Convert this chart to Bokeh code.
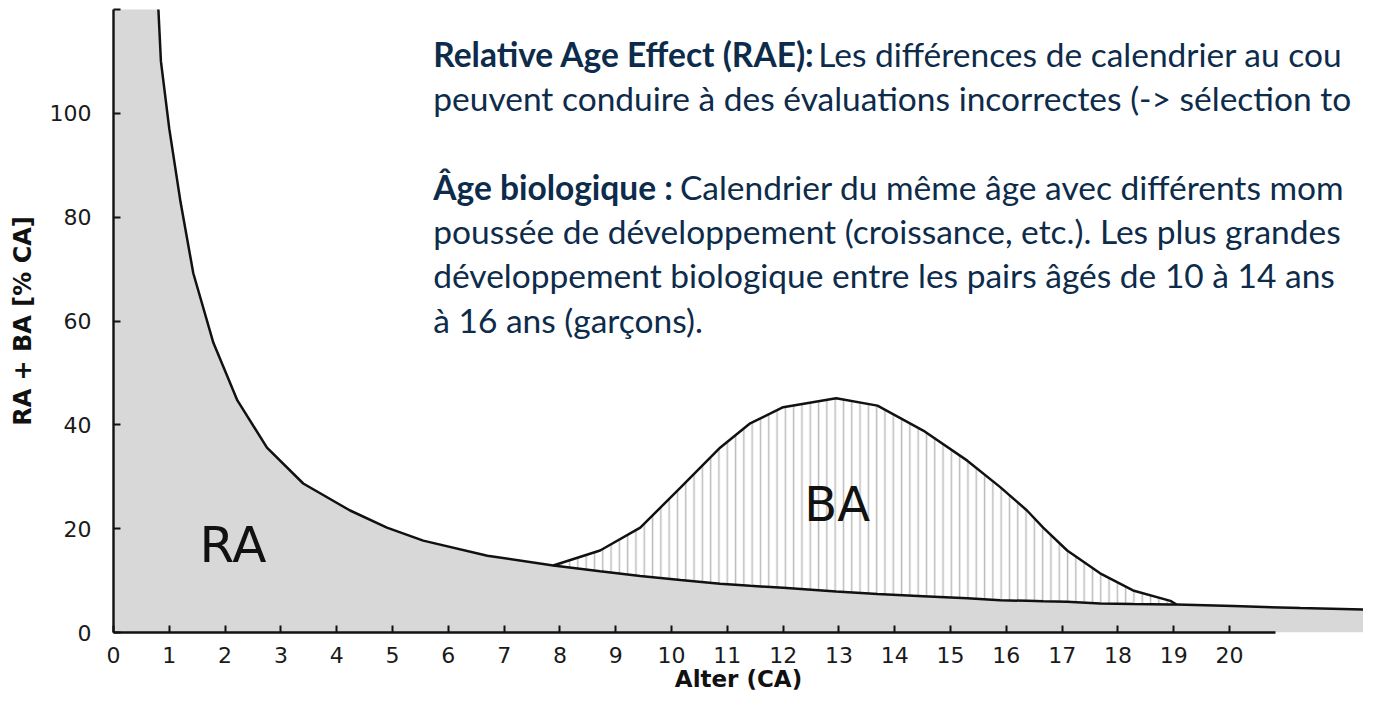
from bokeh.plotting import figure
from bokeh.models import Range1d, Label, FixedTicker, ColumnDataSource
from bokeh.embed import file_html
from bokeh.resources import INLINE

# ---- data ----
AGE = [0.0, 0.80, 0.85, 1.00, 1.20, 1.43, 1.79, 2.22, 2.75, 3.40, 4.24, 4.90, 5.55, 6.70,
       7.88, 8.72, 9.44, 10.16, 10.87, 11.41, 12.00, 12.95, 13.69, 14.51, 15.30, 15.89,
       16.37, 16.66, 17.09, 17.68, 18.27, 18.94, 19.05, 20.07, 21.27, 22.47, 22.80]
RA = [125, 121, 110, 97, 83, 69.2, 55.8, 44.7, 35.6, 28.7, 23.5, 20.2, 17.7, 14.8,
      12.9, 11.8, 10.9, 10.1, 9.4, 9.0, 8.6, 7.9, 7.4, 7.0, 6.6, 6.2,
      6.1, 6.0, 5.9, 5.6, 5.5, 5.4, 5.4, 5.1, 4.7, 4.4, 4.3]

BA_AGE = [7.88, 8.72, 9.44, 10.16, 10.87, 11.41, 12.00, 12.95, 13.69, 14.51, 15.30,
          15.89, 16.37, 16.66, 17.09, 17.68, 18.27, 18.94, 19.05]
BA_TOP = [12.9, 15.8, 20.2, 27.9, 35.6, 40.3, 43.4, 45.1, 43.7, 38.9, 33.1,
          28.0, 23.5, 20.2, 15.8, 11.4, 8.1, 6.1, 5.4]

X_TICKS = list(range(0, 21))
Y_TICKS = [0, 20, 40, 60, 80, 100, 120]
Y_LABELS = {120: ""}

X_TITLE = "Alter (CA)"
Y_TITLE = "RA + BA [% CA]"

PARA_BOLD = ["Relative Age Effect (RAE):", "", "Âge biologique :", "", "", ""]
PARA_REG = ["Les différences de calendrier au cou",
            "peuvent conduire à des évaluations incorrectes (-> sélection to",
            "Calendrier du même âge avec différents mom",
            "poussée de développement (croissance, etc.). Les plus grandes",
            "développement biologique entre les pairs âgés de 10 à 14 ans",
            "à 16 ans (garçons)."]

ra_lookup = dict(zip(AGE, RA))
BA_BASE = [ra_lookup[a] for a in BA_AGE]

ra_src = ColumnDataSource(dict(x=AGE, y=RA))
ba_src = ColumnDataSource(dict(x=BA_AGE, top=BA_TOP, base=BA_BASE))

p = figure(width=1363, height=699, output_backend="svg", toolbar_location=None,
           x_range=Range1d(0, 22.40), y_range=Range1d(0, 120),
           min_border_left=113, min_border_right=0, min_border_top=9, min_border_bottom=67)
p.outline_line_color = None
p.grid.visible = False
p.background_fill_color = "white"
p.border_fill_color = "white"

# RA area
p.varea(x="x", y1=0, y2="y", source=ra_src, fill_color="#d8d8d8")
# BA hatched area
p.varea(x="x", y1="base", y2="top", source=ba_src, fill_alpha=0,
        hatch_pattern="vertical_line", hatch_color="#bcbcbc", hatch_scale=8.3,
        hatch_weight=1.5)
p.line(x="x", y="y", source=ra_src, line_color="#111111", line_width=2.5)
p.line(x="x", y="top", source=ba_src, line_color="#111111", line_width=2.5)

# axes
for ax in (p.xaxis[0], p.yaxis[0]):
    ax.axis_line_width = 2.4
    ax.axis_line_color = "#111111"
    ax.major_tick_in = 7
    ax.major_tick_out = 0
    ax.major_tick_line_width = 2
    ax.major_tick_line_color = "#111111"
    ax.minor_tick_line_color = None
    ax.major_label_text_font = "DejaVu Sans"
    ax.major_label_text_font_size = "22px"
    ax.major_label_text_color = "#1a1a1a"
    ax.axis_label_text_font = "DejaVu Sans"
    ax.axis_label_text_font_style = "bold"
    ax.axis_label_text_color = "#111111"

p.xaxis.ticker = FixedTicker(ticks=X_TICKS)
p.xaxis.bounds = (0, 20.82)
p.xaxis.major_label_standoff = 14
p.xaxis.axis_label = X_TITLE
p.xaxis.axis_label_text_font_size = "23px"
p.xaxis.axis_label_standoff = 0

p.yaxis.ticker = FixedTicker(ticks=Y_TICKS)
p.yaxis.bounds = (0, 120)
p.yaxis.major_label_overrides = Y_LABELS
p.yaxis.major_label_standoff = 22
p.yaxis.axis_label = Y_TITLE
p.yaxis.axis_label_text_font_size = "24px"
p.yaxis.axis_label_standoff = 10

# big area labels
p.add_layout(Label(x=1.54, y=16.9, text="RA", text_font="DejaVu Sans", text_font_size="50px",
                   text_color="#111111", text_align="left", text_baseline="alphabetic"))
p.add_layout(Label(x=12.38, y=24.8, text="BA", text_font="DejaVu Sans", text_font_size="48px",
                   text_color="#111111", text_align="left", text_baseline="alphabetic"))

# paragraph
PARA_Y = [111.4, 103.0, 85.8, 77.3, 68.9, 60.2]
PARA_X0 = 5.73
REG_X = [12.63, 5.73, 10.15, 5.73, 5.73, 5.73]
NAVY = "#0d2b4a"
for i in range(len(PARA_REG)):
    if PARA_BOLD[i]:
        p.add_layout(Label(x=PARA_X0, y=PARA_Y[i], text=PARA_BOLD[i], text_font="Lato",
                           text_font_size="33.5px", text_font_style="bold", text_color=NAVY,
                           text_align="left", text_baseline="alphabetic"))
    p.add_layout(Label(x=REG_X[i], y=PARA_Y[i], text=PARA_REG[i], text_font="Lato",
                       text_font_size="33.5px", text_color=NAVY,
                       text_align="left", text_baseline="alphabetic"))

open("out.html", "w").write(file_html(p, INLINE))
